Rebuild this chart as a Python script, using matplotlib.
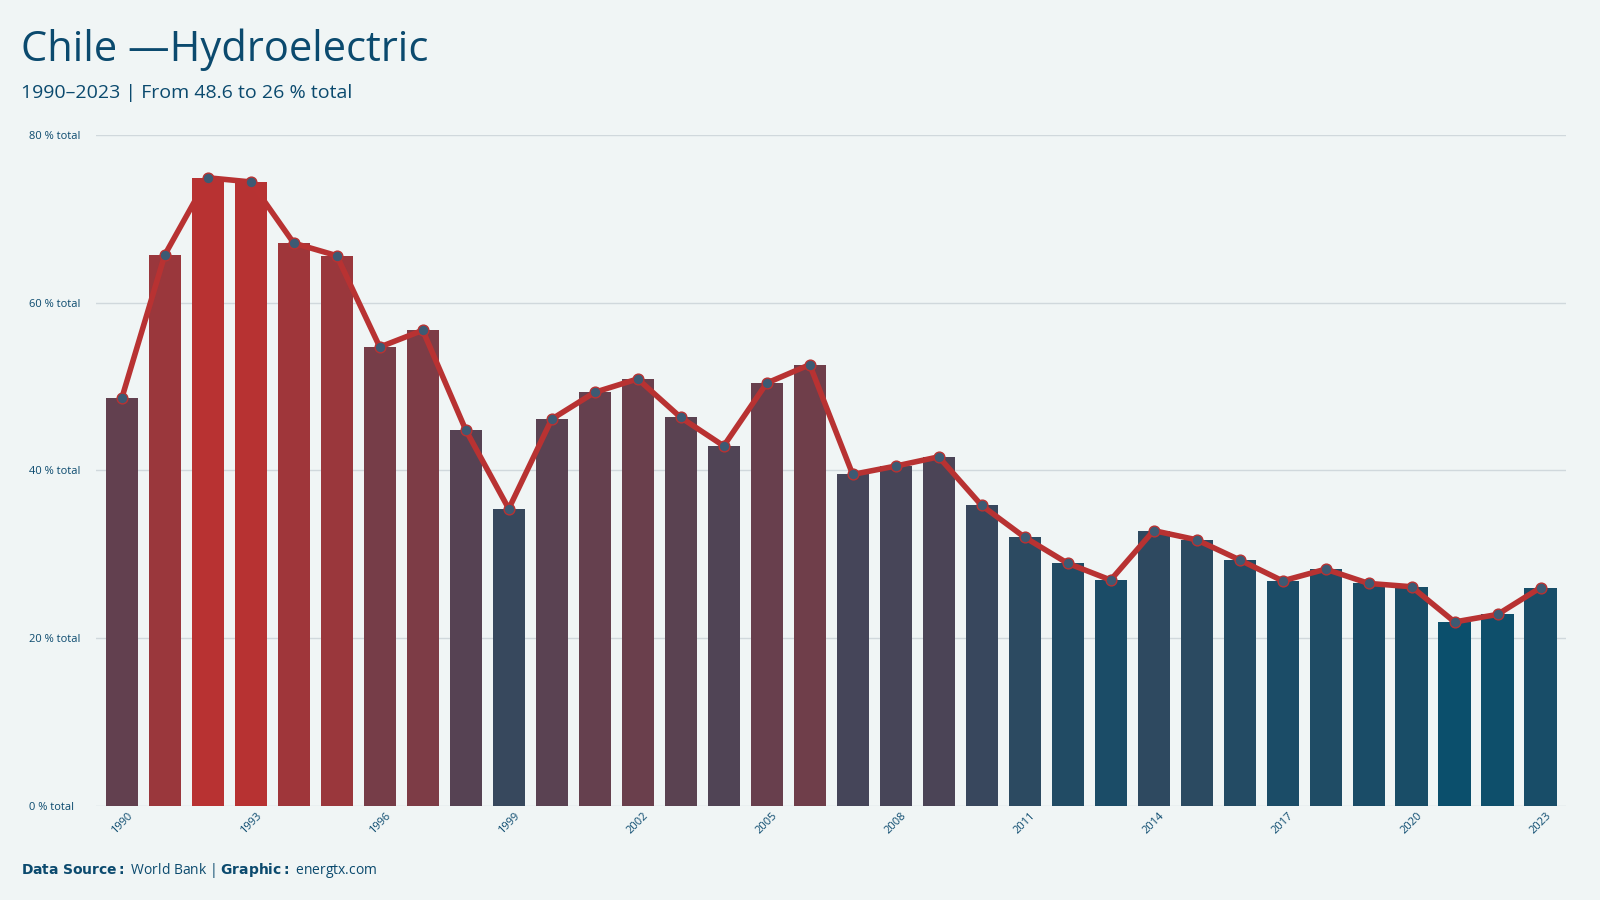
import numpy as np
import matplotlib.pyplot as plt
from matplotlib.colors import LinearSegmentedColormap

years = list(range(1990, 2024))
share = [48.6, 65.7, 74.9, 74.4, 67.1, 65.6, 54.7, 56.7, 44.8, 35.4,
         46.1, 49.3, 50.9, 46.3, 42.9, 50.4, 52.6, 39.5, 40.5, 41.6,
         35.8, 32.0, 28.9, 26.9, 32.8, 31.7, 29.3, 26.8, 28.2, 26.5,
         26.1, 21.9, 22.8, 26.0]
tick_years = [1990, 1993, 1996, 1999, 2002, 2005, 2008, 2011, 2014, 2017, 2020, 2023]

BG = '#f0f5f5'
NAVY = '#0b4a6e'
RED = '#b83232'

plt.rcParams['font.family'] = ['Open Sans', 'DejaVu Sans']
fig = plt.figure(figsize=(16, 9), dpi=100, facecolor=BG)
ax = fig.add_axes([0.06, 0.105, 0.919, 0.745], facecolor=BG)

cmap = LinearSegmentedColormap.from_list('bluered', ['#0b4f6c', RED])
vals = np.array(share)
norm = (vals - vals.min()) / (vals.max() - vals.min())
ax.bar(years, share, width=0.75, color=cmap(norm), zorder=2)
ax.plot(years, share, color=RED, lw=4, zorder=3)
ax.scatter(years, share, s=60, color='#3d5a73', edgecolor=RED, lw=1, zorder=4)

ax.set_ylim(0, 80)
ax.set_xlim(1989.4, 2023.6)
ax.set_yticks([0, 20, 40, 60, 80])
ax.set_yticklabels([f'{v} % total' for v in [0, 20, 40, 60, 80]], fontsize=8, color=NAVY)
ax.set_xticks(tick_years)
ax.set_xticklabels([str(y) for y in tick_years], rotation=45, fontsize=8, color=NAVY)
ax.tick_params(length=0)
ax.grid(axis='y', color='#d0d8dc', lw=1, zorder=0)
for s in ax.spines.values():
    s.set_visible(False)
for lbl in ax.get_yticklabels():
    lbl.set_horizontalalignment('left')
ax.tick_params(axis='y', pad=48)

fig.text(0.013, 0.945, 'Chile —Hydroelectric', fontsize=30, color=NAVY, va='center')
fig.text(0.013, 0.897, '1990–2023 | From 48.6 to 26 % total', fontsize=14, color=NAVY, va='center')
fig.text(0.013, 0.033, r'$\bf{Data\ Source:}$ World Bank | $\bf{Graphic:}$ energtx.com',
         fontsize=10, color=NAVY, va='center')

fig.savefig('out.png', dpi=100, facecolor=BG)
